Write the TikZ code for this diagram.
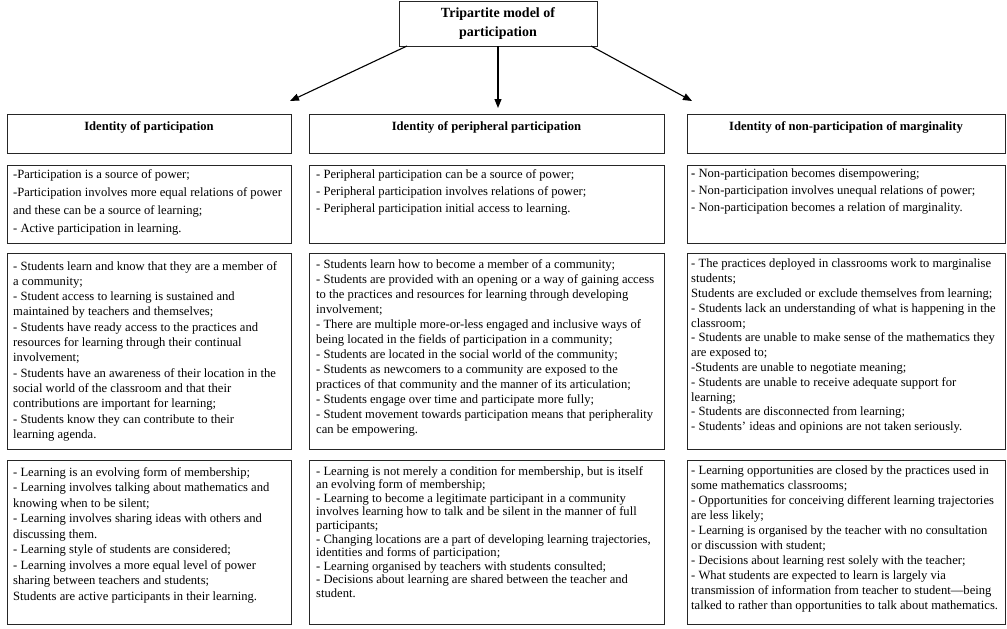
\documentclass[tikz,border=0pt]{standalone}
\usepackage{fontspec}
\setmainfont{Liberation Serif}
\usetikzlibrary{arrows.meta}
\begin{document}
\begin{tikzpicture}[x=1pt,y=-1pt,
  frame/.style={draw=black!85, line width=0.9pt, inner sep=0pt, outer sep=0pt, anchor=north west},
  body/.style={inner sep=0pt, anchor=north west, align=left, font=\fontsize{12.6}{#1}\selectfont},
  head/.style={font=\bfseries\fontsize{12.6}{14}\selectfont, inner sep=0pt},
  conn/.style={-{Triangle[length=9pt,width=7pt]}, line width=1.1pt}]
\useasboundingbox (0,0) rectangle (1007,629);
% title
\node[frame, anchor=center, minimum width=198pt, minimum height=45pt, align=center,
      font=\bfseries\fontsize{14}{19}\selectfont] (top) at (498,23.5) {Tripartite model of\\participation};
% header boxes
\node[frame, minimum width=284pt, minimum height=39pt] (h1) at (7,114) {};
\node[frame, minimum width=355pt, minimum height=39pt] (h2) at (309,114) {};
\node[frame, minimum width=318pt, minimum height=39pt] (h3) at (687,114) {};
\node[head] (h1t) at (149,127) {Identity of participation};
\node[head] (h2t) at (486.5,127) {Identity of peripheral participation};
\node[head] (h3t) at (846,127) {Identity of non-participation of marginality};
% arrows
\coordinate (tipL) at (290,101);
\coordinate (tipM) at (498,108);
\coordinate (tipR) at (692,101);
\draw[conn] ([xshift=8pt]top.south west) -- (tipL);
\draw[conn] (top.south) -- (tipM);
\draw[conn] ([xshift=-6pt]top.south east) -- (tipR);
% row 2
\node[frame, minimum width=284pt, minimum height=78pt] (a2) at (7,165) {};
\node[frame, minimum width=355pt, minimum height=78pt] (b2) at (309,165) {};
\node[frame, minimum width=318pt, minimum height=78pt] (c2) at (687,165) {};
\node[body=18] (a2t) at (13,169) {-Participation is a source of power;\\
-Participation involves more equal relations of power\\
and these can be a source of learning;\\
- Active participation in learning.};
\node[body=17] (b2t) at (316,169) {- Peripheral participation can be a source of power;\\
- Peripheral participation involves relations of power;\\
- Peripheral participation initial access to learning.};
\node[body=17] (c2t) at (691,169) {{\bfseries -} Non-participation becomes disempowering;\\
- Non-participation involves unequal relations of power;\\
- Non-participation becomes a relation of marginality.};
% row 3
\node[frame, minimum width=284pt, minimum height=196pt] (a3) at (7,253) {};
\node[frame, minimum width=355pt, minimum height=196pt] (b3) at (309,253) {};
\node[frame, minimum width=318pt, minimum height=196pt] (c3) at (687,253) {};
\node[body=15.3] (a3t) at (13,261) {- Students learn and know that they are a member of\\
a community;\\
- Student access to learning is sustained and\\
maintained by teachers and themselves;\\
- Students have ready access to the practices and\\
resources for learning through their continual\\
involvement;\\
- Students have an awareness of their location in the\\
social world of the classroom and that their\\
contributions are important for learning;\\
- Students know they can contribute to their\\
learning agenda.};
\node[body=15] (b3t) at (316,259) {- Students learn how to become a member of a community;\\
- Students are provided with an opening or a way of gaining access\\
to the practices and resources for learning through developing\\
involvement;\\
- There are multiple more-or-less engaged and inclusive ways of\\
being located in the fields of participation in a community;\\
- Students are located in the social world of the community;\\
- Students as newcomers to a community are exposed to the\\
practices of that community and the manner of its articulation;\\
- Students engage over time and participate more fully;\\
- Student movement towards participation means that peripherality\\
can be empowering.};
\node[body=14.8] (c3t) at (691,259) {- The practices deployed in classrooms work to marginalise\\
students;\\
Students are excluded or exclude themselves from learning;\\
- Students lack an understanding of what is happening in the\\
classroom;\\
- Students are unable to make sense of the mathematics they\\
are exposed to;\\
-Students are unable to negotiate meaning;\\
- Students are unable to receive adequate support for\\
learning;\\
- Students are disconnected from learning;\\
- Students’ ideas and opinions are not taken seriously.};
% row 4
\node[frame, minimum width=284pt, minimum height=164pt] (a4) at (7,460) {};
\node[frame, minimum width=355pt, minimum height=164pt] (b4) at (309,460) {};
\node[frame, minimum width=318pt, minimum height=164pt] (c4) at (687,460) {};
\node[body=15.5] (a4t) at (13,467) {- Learning is an evolving form of membership;\\
- Learning involves talking about mathematics and\\
knowing when to be silent;\\
- Learning involves sharing ideas with others and\\
discussing them.\\
- Learning style of students are considered;\\
- Learning involves a more equal level of power\\
sharing between teachers and students;\\
Students are active participants in their learning.};
\node[body=13.6] (b4t) at (316,466) {- Learning is not merely a condition for membership, but is itself\\
an evolving form of membership;\\
- Learning to become a legitimate participant in a community\\
involves learning how to talk and be silent in the manner of full\\
participants;\\
- Changing locations are a part of developing learning trajectories,\\
identities and forms of participation;\\
- Learning organised by teachers with students consulted;\\
- Decisions about learning are shared between the teacher and\\
student.};
\node[body=15] (c4t) at (691,466) {- Learning opportunities are closed by the practices used in\\
some mathematics classrooms;\\
- Opportunities for conceiving different learning trajectories\\
are less likely;\\
- Learning is organised by the teacher with no consultation\\
or discussion with student;\\
- Decisions about learning rest solely with the teacher;\\
- What students are expected to learn is largely via\\
transmission of information from teacher to student—being\\
talked to rather than opportunities to talk about mathematics.};
\end{tikzpicture}
\end{document}
